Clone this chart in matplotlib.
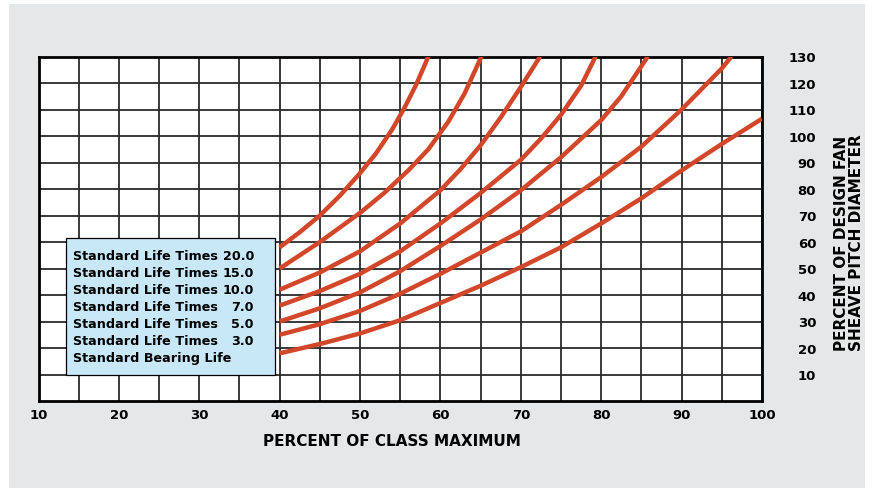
import matplotlib
matplotlib.use("Agg")
import matplotlib.pyplot as plt
from matplotlib.patches import Rectangle

plt.rcParams["font.family"] = ["DejaVu Sans"]
plt.rcParams["font.weight"] = "bold"

# curves (x = percent of class maximum, y = percent of sheave dia)
bearing_x = [40, 45, 50, 55, 60, 65, 70, 75, 80, 85, 90, 95, 100]
bearing_y = [18, 21.5, 25.5, 30.5, 37, 43.5, 50.5, 58, 67, 76.5, 87, 97, 106.5]

life3_x = [40, 45, 50, 55, 60, 65, 70, 75, 80, 85, 90, 95, 96.2]
life3_y = [25, 29, 34, 40.5, 48, 56, 64, 74, 84.5, 96, 110, 125.5, 130]

life5_x = [40, 45, 50, 55, 60, 65, 70, 75, 80, 82.5, 85.8]
life5_y = [30, 35, 41, 49, 58.5, 68.5, 79.5, 92, 106, 115, 130]

life7_x = [40, 45, 50, 55, 60, 65, 70, 72.5, 75, 77.5, 79.3]
life7_y = [36, 41.5, 48, 56.5, 67, 78.5, 91, 99, 108, 119, 130]

life10_x = [40, 45, 50, 55, 60, 62.5, 65, 67.5, 70, 72.4]
life10_y = [42, 48.5, 56.5, 67, 79.5, 87.5, 96.5, 107, 118.5, 130]

life15_x = [40, 45, 50, 53, 56, 58.5, 61, 63, 65.1]
life15_y = [50, 60, 71, 78.5, 87, 95, 105.5, 116, 130]

life20_x = [40, 42.5, 45, 47.5, 50, 52, 54, 55.5, 57, 58.5]
life20_y = [58, 63.7, 70, 77.5, 86, 93.5, 102.5, 110.5, 119.5, 130]

legend_names = ["Standard Life Times", "Standard Life Times", "Standard Life Times",
                "Standard Life Times", "Standard Life Times", "Standard Life Times",
                "Standard Bearing Life"]
legend_factors = ["20.0", "15.0", "10.0", "7.0", "5.0", "3.0", ""]

x_ticks = list(range(10, 101, 10))
y_ticks = list(range(10, 131, 10))

RED = "#d2462a"

fig = plt.figure(figsize=(8.74, 4.89), dpi=100)
fig.patch.set_facecolor("white")
fig.patches.append(Rectangle((9 / 874, 0), 856 / 874, 484 / 489,
                             transform=fig.transFigure, facecolor="#e6e7e8",
                             edgecolor="none", zorder=-10))

ax = fig.add_axes([38.5 / 874, 87 / 489, 723.5 / 874, 344.5 / 489])
ax.set_facecolor("white")
ax.set_xlim(10, 100)
ax.set_ylim(0, 130)

ax.set_xticks(x_ticks)
ax.set_xticks(list(range(15, 100, 10)), minor=True)
ax.set_yticks(y_ticks)
ax.grid(True, which="both", color="#2a2a2a", linewidth=1.3, zorder=1)
ax.set_axisbelow(True)
ax.tick_params(which="both", length=0)
ax.tick_params(axis="x", pad=5, labelsize=9.5)
ax.yaxis.tick_right()
ax.tick_params(axis="y", pad=39, labelsize=9.5)
for lbl in ax.get_yticklabels():
    lbl.set_horizontalalignment("right")
for lbl in ax.get_xticklabels() + ax.get_yticklabels():
    lbl.set_fontweight("bold")
for spine in ax.spines.values():
    spine.set_linewidth(2)
    spine.set_color("black")

for xs, ys in [(bearing_x, bearing_y), (life3_x, life3_y), (life5_x, life5_y),
               (life7_x, life7_y), (life10_x, life10_y), (life15_x, life15_y),
               (life20_x, life20_y)]:
    ax.plot(xs, ys, color=RED, linewidth=3.2, solid_capstyle="butt",
            solid_joinstyle="round", zorder=3)

# legend box
ax.add_patch(Rectangle((13.4, 9.8), 26.0, 51.6, facecolor="#c9e8f7",
                       edgecolor="black", linewidth=0.9, zorder=5))
for i, (name, fac) in enumerate(zip(legend_names, legend_factors)):
    yy = 55 - i * 6.45
    ax.text(14.3, yy, name, fontsize=9.2, fontweight="bold", va="center",
            ha="left", zorder=6)
    if fac:
        ax.text(36.8, yy, fac, fontsize=9.2, fontweight="bold", va="center",
                ha="right", zorder=6)

fig.text(392 / 874, 1 - 442 / 489, "PERCENT OF CLASS MAXIMUM", fontsize=11,
         fontweight="bold", ha="center", va="center")
fig.text(849 / 874, 1 - 243 / 489, "PERCENT OF DESIGN FAN\nSHEAVE PITCH DIAMETER",
         fontsize=11, fontweight="bold", ha="center", va="center",
         rotation=90, multialignment="center", linespacing=0.95)

fig.savefig("out.png", dpi=100)
